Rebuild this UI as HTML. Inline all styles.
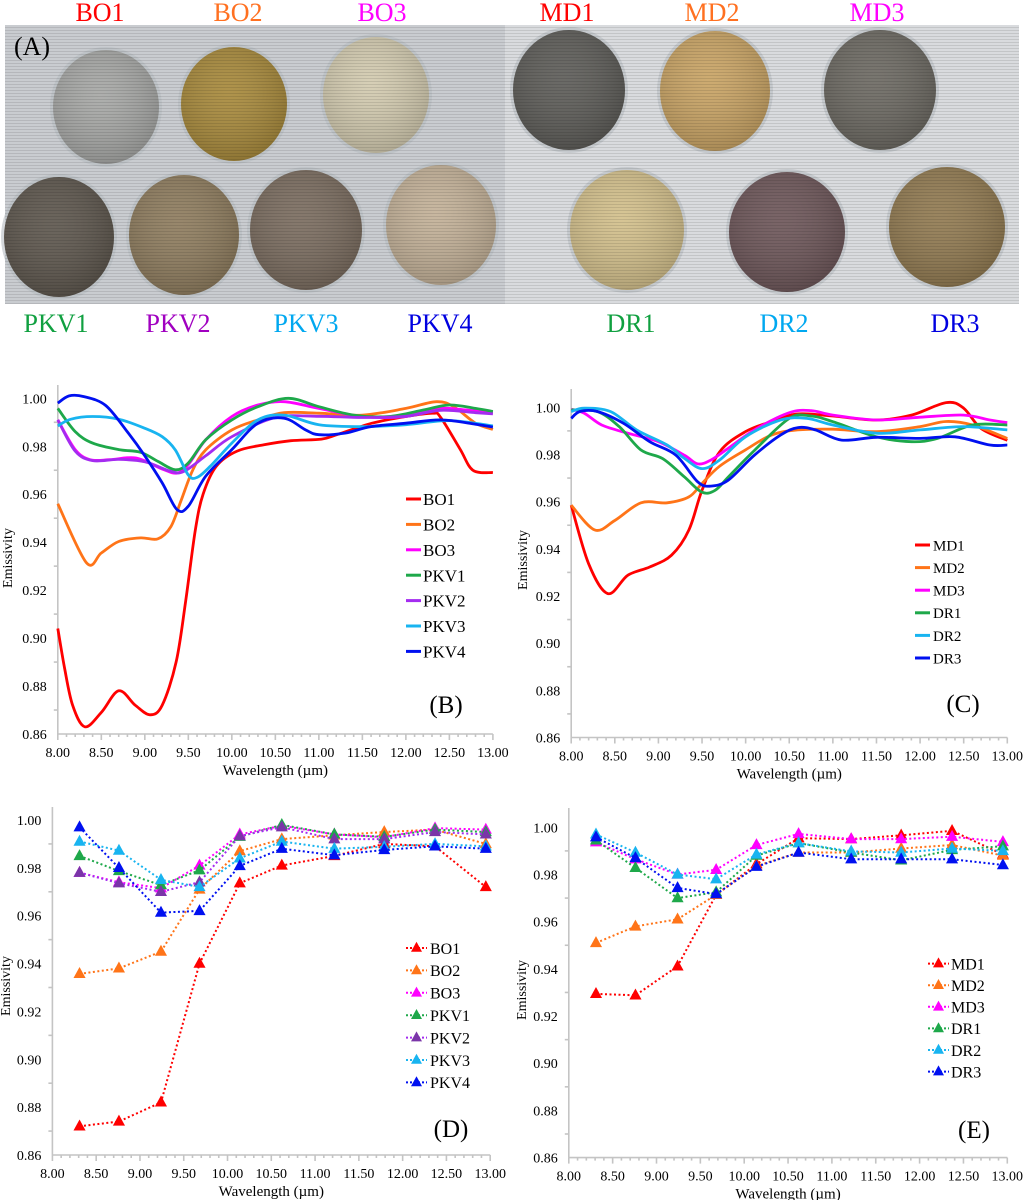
<!DOCTYPE html>
<html><head><meta charset="utf-8"><style>
html,body{margin:0;padding:0;background:#fff;}
svg{display:block;font-family:"Liberation Serif","Times New Roman",serif;}
</style></head><body>
<svg id="fig" width="1024" height="1200" viewBox="0 0 1024 1200" xmlns="http://www.w3.org/2000/svg">
<defs>
<pattern id="stripes" width="4" height="3" patternUnits="userSpaceOnUse"><rect width="4" height="1" fill="#000" opacity="0.10"/></pattern>
<radialGradient id="dishShade" cx="0.45" cy="0.4" r="0.65"><stop offset="0" stop-color="#fff" stop-opacity="0.08"/><stop offset="1" stop-color="#000" stop-opacity="0.18"/></radialGradient>
</defs>
<g id="photo">
<rect x="5" y="25" width="500" height="279" fill="#c9ccd0"/>
<rect x="505" y="25" width="514" height="279" fill="#d9dbde"/>
<g id="dishes"></g>
<rect x="5" y="25" width="1014" height="279" fill="url(#stripes)"/>
<text x="14" y="55" font-size="26" fill="#000">(A)</text>
</g>
<g id="photoLabels" font-size="26"></g>
<g id="charts"></g>
</svg>
<script>
// ---------- chart data ----------
const lineNamesBO = ["BO1","BO2","BO3","PKV1","PKV2","PKV3","PKV4"];
const lineNamesMD = ["MD1","MD2","MD3","DR1","DR2","DR3"];
const xTicks = ["8.00","8.50","9.00","9.50","10.00","10.50","11.00","11.50","12.00","12.50","13.00"];
const yTicks = ["0.86","0.88","0.90","0.92","0.94","0.96","0.98","1.00"];
// Panel B continuous spectra [wavelength, emissivity]
const bBO1 = [[8.0,0.904],[8.08,0.887],[8.17,0.872],[8.31,0.863],[8.5,0.869],[8.7,0.878],[8.89,0.872],[9.06,0.868],[9.2,0.872],[9.36,0.890],[9.47,0.9155],[9.58,0.945],[9.67,0.960],[9.82,0.9716],[10.06,0.978],[10.37,0.9806],[10.68,0.9823],[11.03,0.983],[11.22,0.985],[11.61,0.9896],[12.0,0.9924],[12.31,0.9938],[12.4,0.992],[12.62,0.979],[12.77,0.970],[13.0,0.969]];
const bBO2 = [[8.0,0.956],[8.33,0.9314],[8.5,0.9355],[8.7,0.9403],[8.95,0.9418],[9.15,0.9414],[9.3,0.9465],[9.42,0.9577],[9.55,0.970],[9.7,0.9785],[10.0,0.9868],[10.3,0.991],[10.6,0.994],[11.0,0.9938],[11.5,0.993],[12.0,0.9958],[12.35,0.9986],[12.55,0.9965],[12.8,0.9896],[13.0,0.987]];
const bBO3 = [[8.0,0.991],[8.2,0.9786],[8.37,0.9744],[8.6,0.9744],[8.9,0.9751],[9.2,0.9705],[9.37,0.9688],[9.5,0.9723],[9.7,0.9827],[10.0,0.9924],[10.3,0.9972],[10.6,0.9986],[11.0,0.9958],[11.5,0.9924],[12.0,0.9924],[12.35,0.9958],[12.7,0.9951],[13.0,0.994]];
const bPKV1 = [[8.0,0.9958],[8.2,0.9861],[8.4,0.9813],[8.7,0.9786],[8.95,0.9775],[9.15,0.9737],[9.35,0.9702],[9.5,0.973],[9.7,0.9827],[10.0,0.991],[10.3,0.9965],[10.65,1.000],[11.0,0.9965],[11.4,0.993],[11.8,0.9924],[12.2,0.9951],[12.5,0.9972],[12.8,0.9958],[13.0,0.9945]];
const bPKV2 = [[8.0,0.991],[8.2,0.978],[8.4,0.974],[8.7,0.9745],[9.0,0.9735],[9.3,0.9695],[9.45,0.9695],[9.7,0.976],[10.0,0.984],[10.5,0.992],[11.0,0.9925],[11.5,0.992],[12.0,0.9925],[12.4,0.995],[12.8,0.994],[13.0,0.9935]];
const bPKV3 = [[8.0,0.9885],[8.15,0.9913],[8.4,0.9924],[8.7,0.9913],[9.0,0.9875],[9.2,0.984],[9.35,0.9785],[9.5,0.968],[9.6,0.967],[9.75,0.9716],[10.0,0.9813],[10.3,0.991],[10.6,0.993],[11.0,0.989],[11.5,0.9882],[12.0,0.989],[12.5,0.9907],[13.0,0.9885]];
const bPKV4 = [[8.0,0.998],[8.13,1.001],[8.3,1.0007],[8.55,0.997],[8.8,0.986],[9.0,0.976],[9.2,0.9647],[9.37,0.9536],[9.5,0.955],[9.7,0.9675],[10.0,0.9786],[10.3,0.9896],[10.6,0.9917],[10.85,0.9868],[11.0,0.9848],[11.3,0.9855],[11.6,0.9882],[12.0,0.9896],[12.4,0.991],[12.8,0.9892],[13.0,0.988]];
// Panel C continuous spectra
const cMD1 = [[8.0,0.9585],[8.2,0.9337],[8.42,0.921],[8.65,0.9288],[8.9,0.9323],[9.15,0.9373],[9.35,0.948],[9.5,0.9648],[9.7,0.981],[10.0,0.9897],[10.3,0.994],[10.6,0.9972],[11.0,0.9963],[11.5,0.9946],[11.9,0.9967],[12.3,1.002],[12.5,0.9996],[12.7,0.991],[13.0,0.986]];
const cMD2 = [[8.0,0.9585],[8.27,0.948],[8.5,0.952],[8.8,0.9595],[9.1,0.9595],[9.35,0.962],[9.5,0.9677],[9.7,0.975],[10.0,0.982],[10.3,0.9883],[10.6,0.9904],[11.0,0.9907],[11.5,0.9897],[12.0,0.9918],[12.3,0.994],[12.6,0.9925],[13.0,0.9868]];
const cMD3 = [[8.0,0.9992],[8.15,0.9975],[8.35,0.9925],[8.65,0.989],[9.0,0.9854],[9.3,0.9796],[9.45,0.976],[9.6,0.9776],[9.8,0.9826],[10.1,0.9904],[10.5,0.9977],[10.75,0.9986],[11.0,0.9967],[11.5,0.9946],[12.0,0.9958],[12.5,0.9967],[12.8,0.9946],[13.0,0.9935]];
const cDR1 = [[8.0,0.9989],[8.3,0.9982],[8.55,0.9918],[8.8,0.9819],[9.05,0.9782],[9.3,0.9704],[9.5,0.964],[9.65,0.9648],[9.8,0.9704],[10.1,0.9817],[10.5,0.9953],[10.75,0.9963],[11.0,0.9939],[11.5,0.9875],[11.9,0.9854],[12.2,0.9868],[12.6,0.9925],[13.0,0.9925]];
const cDR2 = [[8.0,0.9982],[8.15,0.9996],[8.45,0.9982],[8.75,0.9904],[9.1,0.984],[9.3,0.9783],[9.5,0.974],[9.7,0.9776],[10.0,0.9875],[10.4,0.9946],[10.7,0.9953],[11.0,0.9925],[11.5,0.989],[12.0,0.9904],[12.5,0.9918],[13.0,0.9904]];
const cDR3 = [[8.0,0.9953],[8.1,0.9982],[8.3,0.9982],[8.6,0.9932],[8.9,0.9854],[9.2,0.9797],[9.45,0.9684],[9.6,0.9666],[9.8,0.9691],[10.1,0.9797],[10.4,0.9882],[10.6,0.9914],[10.8,0.9904],[11.1,0.9861],[11.5,0.9873],[12.0,0.9868],[12.4,0.9875],[12.8,0.984],[13.0,0.984]];
// Panels D/E band-averaged values
const bandX = [8.31,8.76,9.24,9.68,10.14,10.62,11.22,11.79,12.37,12.95];
const dBO1 = [0.872,0.874,0.882,0.940,0.9736,0.981,0.985,0.990,0.989,0.972];
const dBO2 = [0.9357,0.938,0.945,0.971,0.987,0.992,0.9936,0.995,0.996,0.990];
const dBO3 = [0.978,0.974,0.9715,0.981,0.994,0.9976,0.994,0.9928,0.9966,0.996];
const dPKV1 = [0.985,0.9787,0.9728,0.979,0.993,0.998,0.994,0.993,0.996,0.995];
const dPKV2 = [0.978,0.9736,0.970,0.974,0.9933,0.997,0.992,0.992,0.995,0.994];
const dPKV3 = [0.991,0.9872,0.975,0.972,0.984,0.991,0.988,0.9888,0.990,0.989];
const dPKV4 = [0.997,0.980,0.9613,0.962,0.9808,0.988,0.9853,0.9875,0.989,0.988];
const eMD1 = [0.9294,0.9288,0.9411,0.9714,0.9844,0.9954,0.995,0.9966,0.9985,0.9885];
const eMD2 = [0.951,0.958,0.961,0.9714,0.9836,0.9893,0.9893,0.991,0.9925,0.988];
const eMD3 = [0.9937,0.9865,0.980,0.982,0.9925,0.9972,0.995,0.995,0.996,0.9938];
const eDR1 = [0.9945,0.9828,0.970,0.9725,0.988,0.9933,0.9893,0.986,0.9904,0.992];
const eDR2 = [0.997,0.9893,0.980,0.978,0.9885,0.9933,0.9898,0.9893,0.991,0.990];
const eDR3 = [0.9958,0.987,0.9743,0.9717,0.9833,0.9893,0.9865,0.9865,0.9865,0.984];

const NS="http://www.w3.org/2000/svg";
function mk(tag,attrs,parent){const e=document.createElementNS(NS,tag);for(const k in attrs)e.setAttribute(k,attrs[k]);if(parent)parent.appendChild(e);return e;}

// ---------- photo ----------
const dishesG=document.getElementById('dishes');
const dishes=[
 ["bo1",106,107,53,57,"#a7a8a6"],["bo2",234,104,53,57,"#a88a3c"],["bo3",376,95,53,58,"#d3cbb0"],
 ["md1",569,90,56,60,"#5e5d59"],["md2",715,91,55,60,"#c9a465"],["md3",880,90,56,60,"#6d6a63"],
 ["pkv1",59,237,55,60,"#5e574e"],["pkv2",184,235,55,60,"#8f7d5f"],["pkv3",306,230,56,60,"#7b6d60"],["pkv4",441,225,55,60,"#c3b198"],
 ["dr1",627,230,57,60,"#d3c08c"],["dr2",787,232,58,60,"#6e575a"],["dr3",947,227,58,60,"#927b52"]];
dishes.forEach(d=>{
 const g=mk('g',{},dishesG);
 
 
 mk('ellipse',{cx:d[1],cy:d[2],rx:d[3]+3,ry:d[4]+3,fill:"#b8bcc2",opacity:0.6},g);
 mk('ellipse',{cx:d[1],cy:d[2],rx:d[3],ry:d[4],fill:d[5]},g);
 mk('ellipse',{cx:d[1],cy:d[2],rx:d[3],ry:d[4],fill:"url(#dishShade)"},g);
});
const plG=document.getElementById('photoLabels');
const photoLabels=[["BO1",100,21,"#ff0000"],["BO2",238,21,"#ff7020"],["BO3",382,21,"#ff00ff"],["MD1",567,21,"#ff0000"],["MD2",712,21,"#ff7020"],["MD3",877,21,"#ff00ff"],
 ["PKV1",56,332,"#10a040"],["PKV2",178,332,"#a000c0"],["PKV3",306,332,"#00a8f0"],["PKV4",440,332,"#0000e0"],["DR1",631,332,"#10a040"],["DR2",784,332,"#00a8f0"],["DR3",955,332,"#0000e0"]];
photoLabels.forEach(l=>{
 const t=mk('text',{x:l[1],y:l[2],'text-anchor':'middle',fill:l[3],'font-size':26},plG);
 
 
 t.textContent=l[0];
});

// ---------- charts ----------
const colors={BO1:"#ff0000",BO2:"#ff7418",BO3:"#ff00ff",PKV1:"#1ea84a",PKV2:"#a42cf0",PKV3:"#18b4f0",PKV4:"#0010f0",
 MD1:"#ff0000",MD2:"#ff7418",MD3:"#ff00ff",DR1:"#1ea84a",DR2:"#18b4f0",DR3:"#0010f0"};
const markerColors={PKV2:"#7a35a8"};
const chartsG=document.getElementById('charts');

function catmull(pts){
 let d="M"+pts[0][0].toFixed(1)+","+pts[0][1].toFixed(1);
 for(let i=0;i<pts.length-1;i++){
  const p0=pts[i-1]||pts[i],p1=pts[i],p2=pts[i+1],p3=pts[i+2]||p2;
  const c1=[p1[0]+(p2[0]-p0[0])/6,p1[1]+(p2[1]-p0[1])/6];
  const c2=[p2[0]-(p3[0]-p1[0])/6,p2[1]-(p3[1]-p1[1])/6];
  d+="C"+c1[0].toFixed(1)+","+c1[1].toFixed(1)+" "+c2[0].toFixed(1)+","+c2[1].toFixed(1)+" "+p2[0].toFixed(1)+","+p2[1].toFixed(1);
 }
 return d;
}
function tri(x,y,s){return (x)+","+(y-s*0.62)+" "+(x+s*0.55)+","+(y+s*0.38)+" "+(x-s*0.55)+","+(y+s*0.38);}

function drawChart(cfg){
 const g=mk('g',{},chartsG);
 
 
 const sx=v=>cfg.x0+(v-8)/(13-8)*(cfg.x1-cfg.x0);
 const sy=v=>cfg.y86+(v-0.86)/(1.00-0.86)*(cfg.y100-cfg.y86);
 const ax=mk('g',{stroke:"#c4c4c4",'stroke-width':1.6,fill:"none"},g);
 
 
 mk('line',{x1:cfg.x0,y1:cfg.top,x2:cfg.x0,y2:cfg.y86},ax);
 mk('line',{x1:cfg.x0,y1:cfg.y86,x2:cfg.x1,y2:cfg.y86},ax);
 for(let i=0;i<=14;i++){const v=0.86+i*0.01;const y=sy(v);mk('line',{x1:cfg.x0-(i%2?4:0),y1:y,x2:cfg.x0,y2:y},ax);}
 for(let i=0;i<=50;i++){const x=sx(8+i*0.1);mk('line',{x1:x,y1:cfg.y86,x2:x,y2:cfg.y86+(i%5?3:6)},ax);}
 const tl=mk('g',{'font-size':14,fill:"#000"},g);
 
 
 yTicks.forEach(s=>{const t=mk('text',{x:cfg.x0-11,y:sy(parseFloat(s))+5,'text-anchor':'end'},tl);t.textContent=s;});
 xTicks.forEach(s=>{const t=mk('text',{x:sx(parseFloat(s)),y:cfg.y86+23,'text-anchor':'middle'},tl);t.textContent=s;});
 const xt=mk('text',{x:(cfg.x0+cfg.x1)/2,y:cfg.y86+41,'text-anchor':'middle','font-size':15},g);
 
 
 xt.textContent="Wavelength (µm)";
 const yt=mk('text',{x:0,y:0,'text-anchor':'middle','font-size':14,transform:"translate("+(cfg.ex)+","+(cfg.ey)+") rotate(-90)"},g);
 
 
 yt.textContent="Emissivity";
 cfg.series.forEach((arr,i)=>{
  const name=cfg.names[i];const col=colors[name];
  const sg=mk('g',{},g);
  
  
  if(cfg.kind==="line"){
   const pts=arr.map(p=>[sx(p[0]),sy(p[1])]);
   mk('path',{d:catmull(pts),stroke:col,'stroke-width':2.8,fill:"none",'stroke-linejoin':'round'},sg);
  } else {
   const pts=arr.map((v,j)=>[sx(bandX[j]),sy(v)]);
   mk('polyline',{points:pts.map(p=>p[0].toFixed(1)+","+p[1].toFixed(1)).join(" "),stroke:col,'stroke-width':2,'stroke-dasharray':"2,2.5",fill:"none"},sg);
   pts.forEach(p=>{const m=mk('polygon',{points:tri(p[0],p[1],11),fill:markerColors[name]||col},sg);
    
    });
  }
 });
 const lg=mk('g',{},g);
 
 
 cfg.names.forEach((name,i)=>{
  const y=cfg.ly+i*cfg.ldy;const col=colors[name];
  const e=mk('g',{},lg);
  
  
  if(cfg.kind==="line"){
   mk('line',{x1:cfg.lx,y1:y,x2:cfg.lx+15,y2:y,stroke:col,'stroke-width':3},e);
  } else {
   mk('line',{x1:cfg.lx,y1:y,x2:cfg.lx+21,y2:y,stroke:col,'stroke-width':2,'stroke-dasharray':"2,2"},e);
   mk('polygon',{points:tri(cfg.lx+10.5,y,10),fill:markerColors[name]||col},e);
  }
  const t=mk('text',{x:cfg.lx+cfg.ltx,y:y+cfg.lfs*0.36,'font-size':cfg.lfs,fill:"#000"},e);
  t.textContent=name;
 });
 const pl=mk('text',{x:cfg.px,y:cfg.py+8,'text-anchor':'middle','font-size':25,fill:"#000"},g);
 
 
 pl.textContent="("+cfg.id.toUpperCase()+")";
}

drawChart({id:"b",kind:"line",x0:57.8,x1:492.9,y100:398.3,y86:734,top:385,ex:12,ey:558,
 names:lineNamesBO,series:[bBO1,bBO2,bBO3,bPKV1,bPKV2,bPKV3,bPKV4],lx:406,ltx:17,ly:499,ldy:25.4,lfs:17,px:446,py:705});
drawChart({id:"c",kind:"line",x0:571.2,x1:1007.3,y100:407.3,y86:737.5,top:389,ex:527,ey:560,
 names:lineNamesMD,series:[cMD1,cMD2,cMD3,cDR1,cDR2,cDR3],lx:915,ltx:18,ly:545,ldy:22.6,lfs:15,px:963,py:704});
drawChart({id:"d",kind:"point",x0:52.4,x1:490.2,y100:820,y86:1155,top:807,ex:10,ey:986,
 names:lineNamesBO,series:[dBO1,dBO2,dBO3,dPKV1,dPKV2,dPKV3,dPKV4],lx:406,ltx:24,ly:948,ldy:22.4,lfs:16,px:451,py:1129});
drawChart({id:"e",kind:"point",x0:568.8,x1:1007.3,y100:827.3,y86:1157.6,top:808,ex:526,ey:990,
 names:lineNamesMD,series:[eMD1,eMD2,eMD3,eDR1,eDR2,eDR3],lx:928,ltx:23,ly:963.6,ldy:21.6,lfs:16,px:974,py:1130});
</script>
</body></html>
